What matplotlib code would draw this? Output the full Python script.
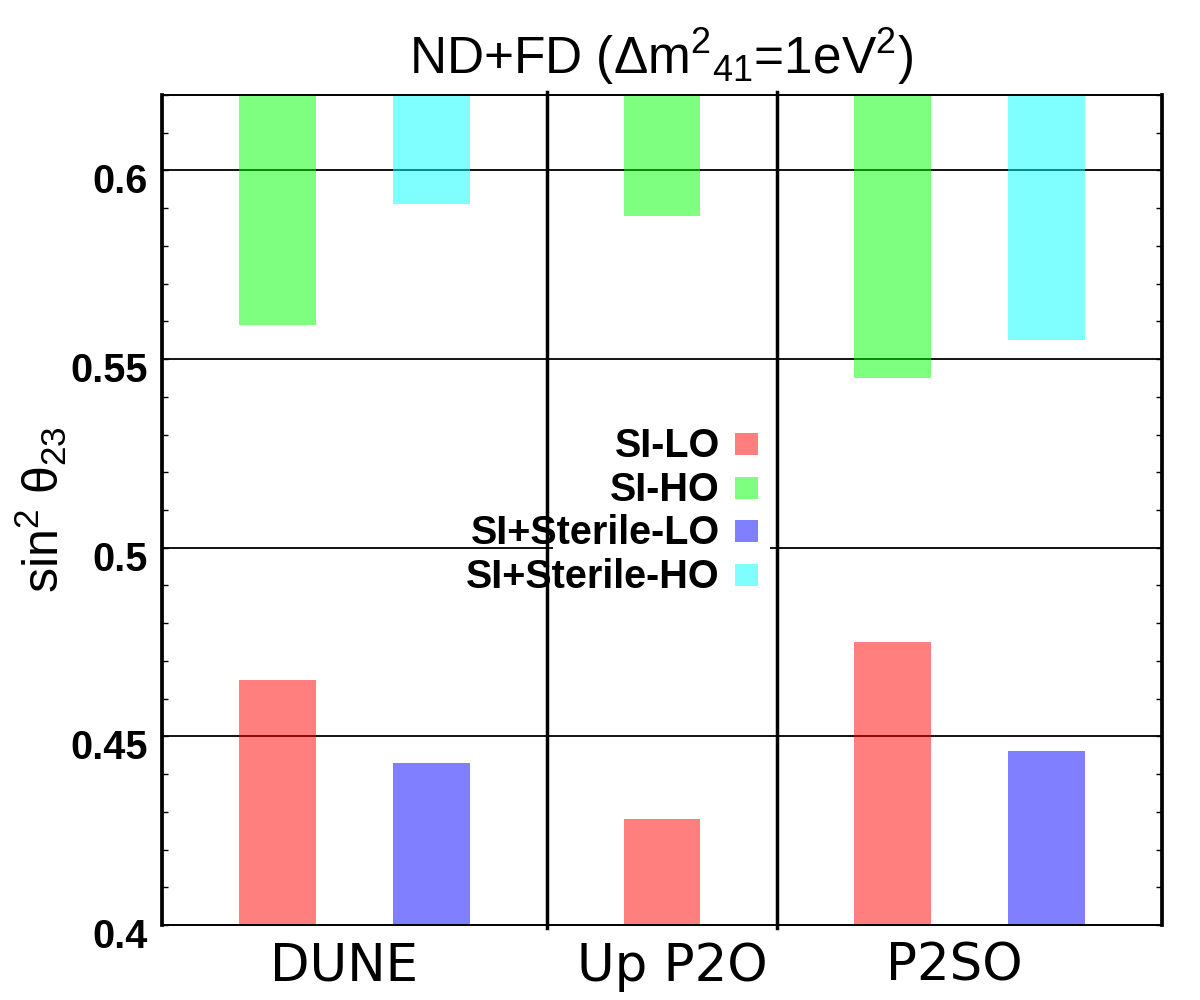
import numpy as np
import matplotlib
matplotlib.use('Agg')
import matplotlib.pyplot as plt
from matplotlib.ticker import MultipleLocator
from matplotlib.transforms import ScaledTranslation
from matplotlib.patches import Rectangle

plt.rcParams['font.family'] = ['Liberation Sans', 'DejaVu Sans']
plt.rcParams['mathtext.fontset'] = 'custom'
plt.rcParams['mathtext.rm'] = 'Liberation Sans'
plt.rcParams['mathtext.it'] = 'Liberation Sans:italic'

# data
experiments = ['DUNE', 'Up P2O', 'P2SO']
label_pos = [2.37, 6.64, 10.3]    # where the experiment names sit
si_x = [1.5, 6.5, 9.5]             # SI bars, one per experiment
si_lo = [0.465, 0.428, 0.475]
si_ho = [0.559, 0.588, 0.545]
st_x = [3.5, 11.5]                 # SI+Sterile bars (DUNE, P2SO only)
st_lo = [0.443, 0.446]
st_ho = [0.591, 0.555]
separators = [5, 8]
ymin, ymax = 0.4, 0.62

fig = plt.figure(figsize=(12, 10), dpi=100)
ax = fig.add_axes([0.135, 0.075, 0.8333, 0.83])
ax.set_xlim(0, 13)
ax.set_ylim(ymin, ymax)

# horizontal grid at the major ticks
for yv in [0.45, 0.5, 0.55, 0.6]:
    ax.axhline(yv, color='black', lw=1.3, zorder=1)

# lower bars grow up from the bottom, upper bars hang from the top
bw = 1.0
ax.bar(si_x, np.array(si_lo) - ymin, bottom=ymin, width=bw, color='red', alpha=0.5, lw=0, zorder=2)
ax.bar(st_x, np.array(st_lo) - ymin, bottom=ymin, width=bw, color='blue', alpha=0.5, lw=0, zorder=2)
ax.bar(si_x, ymax - np.array(si_ho), bottom=si_ho, width=bw, color='lime', alpha=0.5, lw=0, zorder=2)
ax.bar(st_x, ymax - np.array(st_ho), bottom=st_ho, width=bw, color='cyan', alpha=0.5, lw=0, zorder=2)

# key background hides the 0.5 grid line
ax.add_patch(Rectangle((0.391, 0.398), 0.217, 0.204, transform=ax.transAxes,
                       facecolor='white', edgecolor='none', zorder=3))

# key, labels right aligned with swatches on the right
key_labels = ['SI-LO', 'SI-HO', 'SI+Sterile-LO', 'SI+Sterile-HO']
key_colors = ['red', 'lime', 'blue', 'cyan']
row_y = [0.5795, 0.5265, 0.4747, 0.4217]
for lab, col, yc in zip(key_labels, key_colors, row_y):
    ax.text(0.558, yc - 0.0155, lab, transform=ax.transAxes, ha='right', va='baseline',
            fontsize=28.5, fontweight='bold', zorder=4)
    ax.add_patch(Rectangle((0.573, yc - 0.0133), 0.023, 0.0265, transform=ax.transAxes,
                           facecolor=col, alpha=0.5, edgecolor='none', zorder=4))

# group separators
for xs in separators:
    ax.axvline(xs, ymin=-0.004, ymax=1.004, color='black', lw=2.5, zorder=5, clip_on=False)

# spines
for side in ['left', 'right']:
    ax.spines[side].set_linewidth(2.7)
for side in ['top', 'bottom']:
    ax.spines[side].set_linewidth(1.4)
for sp in ax.spines.values():
    sp.set_zorder(6)

# y ticks
ax.set_yticks([0.4, 0.45, 0.5, 0.55, 0.6])
ax.set_yticklabels(['0.4', '0.45', '0.5', '0.55', '0.6'])
ax.yaxis.set_minor_locator(MultipleLocator(0.01))
ax.tick_params(axis='y', which='both', direction='in', left=True, right=True,
               length=4.5, width=1, pad=10, labelsize=28.5)
for t in ax.get_yticklabels():
    t.set_fontweight('bold')
    t.set_transform(t.get_transform() + ScaledTranslation(0, -0.08, fig.dpi_scale_trans))

# x ticks
ax.set_xticks(label_pos)
ax.set_xticklabels(experiments, family='DejaVu Sans')
ax.tick_params(axis='x', which='both', length=0, pad=12, labelsize=37)

fig.text(0.551, 0.926, r'ND+FD ($\Delta$m$^2$$_{41}$=1eV$^2$)', ha='center', va='baseline',
         fontsize=37)
fig.text(0.034, 0.49, r'sin$^2$ θ$_{23}$', rotation=90, ha='center', va='center', fontsize=36)

fig.savefig('out.png', dpi=100)
